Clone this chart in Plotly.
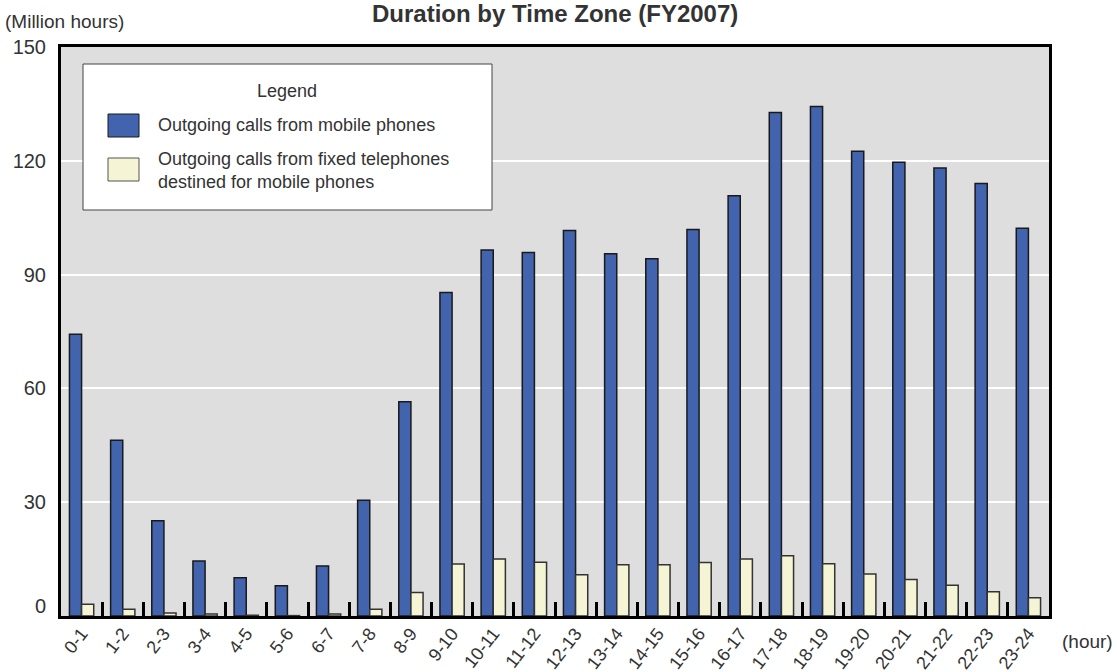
import plotly.graph_objects as go

categories = ["0-1", "1-2", "2-3", "3-4", "4-5", "5-6", "6-7", "7-8", "8-9", "9-10",
              "10-11", "11-12", "12-13", "13-14", "14-15", "15-16", "16-17", "17-18",
              "18-19", "19-20", "20-21", "21-22", "22-23", "23-24"]
mobile = [74.3, 46.3, 25.1, 14.5, 10.1, 8.0, 13.2, 30.5, 56.5, 85.3,
          96.5, 95.8, 101.6, 95.5, 94.2, 101.9, 110.8, 132.7,
          134.3, 122.5, 119.6, 118.1, 114.0, 102.2]
fixed = [3.1, 1.75, 0.8, 0.5, 0.2, 0.1, 0.5, 1.75, 6.2, 13.7,
         15.0, 14.2, 10.9, 13.5, 13.5, 14.1, 15.05, 15.9,
         13.8, 11.1, 9.6, 8.1, 6.4, 4.8]
y_ticks = [30, 60, 90, 120, 150]

name_mobile = "Outgoing calls from mobile phones"
name_fixed = "Outgoing calls from fixed telephones<br>destined for mobile phones"

BLUE = "#4263ad"
CREAM = "#f5f4d4"
FONT = "Liberation Sans, Arial, Helvetica, sans-serif"
TXT = "#333333"

W, H = 1117, 672
L, R, T, B = 61, 68, 47, 56
PW, PH = W - L - R, H - T - B


def px(x):
    return (x - L) / PW


def py(y):
    return (H - B - y) / PH


fig = go.Figure()
fig.add_trace(go.Bar(x=categories, y=mobile, name=name_mobile,
                     marker=dict(color=BLUE, line=dict(color="#1a1a1a", width=1.5)),
                     showlegend=False))
fig.add_trace(go.Bar(x=categories, y=fixed, name=name_fixed,
                     marker=dict(color=CREAM, line=dict(color="#333333", width=1.5)),
                     showlegend=False))

fig.update_layout(
    width=W, height=H,
    margin=dict(l=L, r=R, t=T, b=B, autoexpand=False),
    paper_bgcolor="white",
    plot_bgcolor="#dedede",
    barmode="group",
    bargap=0.41,
    bargroupgap=0,
    font=dict(family=FONT, size=18, color=TXT),
)
fig.update_xaxes(
    type="category", categoryorder="array", categoryarray=categories,
    tickson="boundaries", ticks="inside", ticklen=14, tickwidth=3, tickcolor="black",
    showline=True, linewidth=3, linecolor="black", mirror=True,
    showgrid=False, tickangle=-52, tickfont=dict(size=18, color=TXT),
    ticklabelstandoff=-3, automargin=False,
)
fig.update_yaxes(
    range=[0, 150], tickvals=y_ticks, ticktext=[str(v) for v in y_ticks],
    showgrid=True, gridcolor="white", gridwidth=2, zeroline=False,
    showline=True, linewidth=3, linecolor="black", mirror=True,
    ticks="", ticklabelstandoff=8, tickfont=dict(size=20, color=TXT),
    automargin=False,
)

# Title, kept fully visible at the very top
fig.add_annotation(text="<b>Duration by Time Zone (FY2007)</b>", xref="paper", yref="paper",
                   x=0.5, y=py(-2), xanchor="center", yanchor="top",
                   showarrow=False, font=dict(size=24, color=TXT, family=FONT))
fig.add_annotation(text="(Million hours)", xref="paper", yref="paper",
                   x=px(3), y=py(21), xanchor="left", yanchor="middle",
                   showarrow=False, font=dict(size=19, color=TXT))
fig.add_annotation(text="(hour)", xref="paper", yref="paper",
                   x=px(1060), y=py(642), xanchor="left", yanchor="middle",
                   showarrow=False, font=dict(size=19, color=TXT))
fig.add_annotation(text="0", xref="paper", yref="y", x=0, y=0, xanchor="right",
                   yanchor="middle", xshift=-13, yshift=10,
                   showarrow=False, font=dict(size=20, color=TXT))

# Legend box
fig.add_shape(type="rect", xref="paper", yref="paper",
              x0=px(83), x1=px(492), y0=py(210), y1=py(64),
              fillcolor="white", line=dict(color="#444444", width=1), layer="above")
fig.add_annotation(text="Legend", xref="paper", yref="paper", x=px(287), y=py(91),
                   xanchor="center", yanchor="middle", showarrow=False,
                   font=dict(size=18, color=TXT))
fig.add_shape(type="rect", xref="paper", yref="paper",
              x0=px(108), x1=px(139), y0=py(137), y1=py(114),
              fillcolor=BLUE, line=dict(color="#1a1a1a", width=1), layer="above")
fig.add_shape(type="rect", xref="paper", yref="paper",
              x0=px(108), x1=px(139), y0=py(181), y1=py(158),
              fillcolor=CREAM, line=dict(color="#555555", width=1), layer="above")
fig.add_annotation(text=name_mobile, xref="paper", yref="paper", x=px(156), y=py(125.5),
                   xanchor="left", yanchor="middle", showarrow=False,
                   font=dict(size=18, color=TXT))
fig.add_annotation(text=name_fixed, xref="paper", yref="paper", x=px(156), y=py(170.5),
                   xanchor="left", yanchor="middle", align="left", showarrow=False,
                   font=dict(size=18, color=TXT))

fig.write_html("out.html", config={"displayModeBar": False},
               post_script="document.body.style.margin='0';document.body.style.overflow='hidden';")
